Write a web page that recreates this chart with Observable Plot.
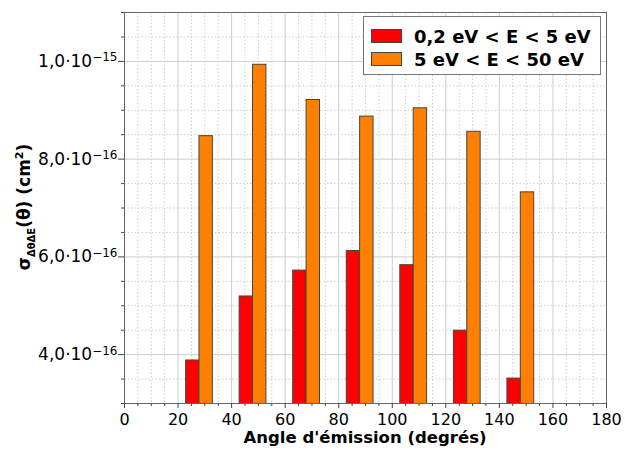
<!DOCTYPE html>
<html>
<head>
<meta charset="utf-8">
<script src="https://cdn.jsdelivr.net/npm/d3@7"></script>
<script src="https://cdn.jsdelivr.net/npm/@observablehq/plot@0.6"></script>
<style>
  html, body { margin: 0; padding: 0; background: white; }
  #wrap { position: relative; width: 625px; height: 455px; font-family: "DejaVu Sans", sans-serif; }
  #legend { position: absolute; left: 363px; top: 16px; width: 236px; height: 57px; border: 1px solid #777; background: white; }
  .row { position: absolute; left: 0; height: 20px; display: flex; align-items: center; font-weight: bold; font-size: 18px; color: #000; white-space: nowrap; }
  .sw { width: 29px; height: 12px; border: 1px solid #444; margin-left: 7px; margin-right: 12px; }
</style>
</head>
<body>
<div id="wrap"><div id="legend"></div></div>
<script>
// ---- data ----
const angles = [30, 50, 70, 90, 110, 130, 150];
const lowE = [3.88e-16, 5.19e-16, 5.72e-16, 6.12e-16, 5.83e-16, 4.49e-16, 3.51e-16];
const highE = [8.47e-16, 9.93e-16, 9.21e-16, 8.87e-16, 9.04e-16, 8.56e-16, 7.32e-16];
const seriesLabels = ["0,2 eV < E < 5 eV", "5 eV < E < 50 eV"];
const seriesColors = ["#ff0000", "#ff8000"];
const xTicks = [0, 20, 40, 60, 80, 100, 120, 140, 160, 180];
const yTicks = [4e-16, 6e-16, 8e-16, 1e-15];
const yTickMantissa = ["4,0·10", "6,0·10", "8,0·10", "1,0·10"];
const yTickExponent = ["−16", "−16", "−16", "−15"];
const xTitle = "Angle d'émission (degrés)";

// ---- layout helpers ----
const barW = 5, shift = -2;
const bars = [];
angles.forEach((a, i) => {
  bars.push({x1: a + shift - barW, x2: a + shift, y: lowE[i], s: 0});
  bars.push({x1: a + shift, x2: a + shift + barW, y: highE[i], s: 1});
});
const minorX = d3.range(0, 181, 5).filter(d => d % 20 !== 0);
const minorY = d3.range(6, 23).filter(k => k % 4 !== 0).map(k => k * 0.5e-16);

const gridC = "#cdcdcd";
const chart = Plot.plot({
  width: 625, height: 455,
  marginLeft: 124, marginRight: 19, marginTop: 12, marginBottom: 52,
  style: {fontFamily: "DejaVu Sans", fontSize: "16px", color: "#000", background: "white"},
  x: {domain: [0, 180]},
  y: {domain: [3e-16, 1.1e-15]},
  marks: [
    Plot.ruleX(minorX, {stroke: gridC, strokeDasharray: "1.5,2"}),
    Plot.ruleY(minorY, {stroke: gridC, strokeDasharray: "1.5,2"}),
    Plot.ruleX(xTicks, {stroke: gridC}),
    Plot.ruleY(yTicks, {stroke: gridC}),
    Plot.rect(bars, {x1: "x1", x2: "x2", y1: 0, y2: "y", fill: d => seriesColors[d.s], stroke: "#444", strokeWidth: 1, clip: true}),
    Plot.frame({stroke: "#666"}),
    Plot.axisX({ticks: xTicks, tickSize: 5, tickPadding: 5, label: null, fontSize: 16, stroke: "#444"}),
    Plot.axisX({ticks: minorX, tickSize: 3, tickFormat: () => "", label: null, stroke: "#444"}),
    Plot.axisY({ticks: yTicks, tickSize: 6, tickPadding: 1, label: null, fontSize: 17, stroke: "#444",
      tickFormat: d => yTickMantissa[yTicks.indexOf(d)] + "^" + yTickExponent[yTicks.indexOf(d)]}),
    Plot.axisY({ticks: minorY, tickSize: 3, tickFormat: () => "", label: null, stroke: "#444"})
  ]
});

const svg = d3.select(chart);
// turn "mantissa^exponent" tick labels into real superscripts
svg.selectAll("text").each(function() {
  const s = this.textContent;
  if (s.includes("^")) {
    const [m, e] = s.split("^");
    const t = d3.select(this);
    t.text(null);
    t.append("tspan").text(m);
    t.append("tspan").attr("font-size", 12).attr("dy", "-0.45em").text(e);
  }
});

svg.append("text")
  .attr("x", (124 + 606) / 2).attr("y", 443)
  .attr("text-anchor", "middle")
  .attr("font-weight", "bold").attr("font-size", 16.5).attr("fill", "#000")
  .text(xTitle);

const yt = svg.append("text")
  .attr("transform", "translate(30,207) rotate(-90)")
  .attr("text-anchor", "middle")
  .attr("font-weight", "bold").attr("font-size", 17).attr("fill", "#000");
yt.append("tspan").text("σ");
yt.append("tspan").attr("font-size", 10).attr("dy", 5).text("ΔθΔE");
yt.append("tspan").attr("dy", -5).text("(θ) (cm");
yt.append("tspan").attr("font-size", 11).attr("dy", -7).text("2");
yt.append("tspan").attr("dy", 7).text(")");

document.getElementById("wrap").prepend(chart);

const legend = document.getElementById("legend");
seriesLabels.forEach((lab, i) => {
  const row = document.createElement("div");
  row.className = "row";
  row.style.top = (i === 0 ? 9 : 32) + "px";
  const sw = document.createElement("div");
  sw.className = "sw";
  sw.style.background = seriesColors[i];
  const t = document.createElement("span");
  t.textContent = lab;
  row.appendChild(sw); row.appendChild(t);
  legend.appendChild(row);
});
</script>
</body>
</html>
